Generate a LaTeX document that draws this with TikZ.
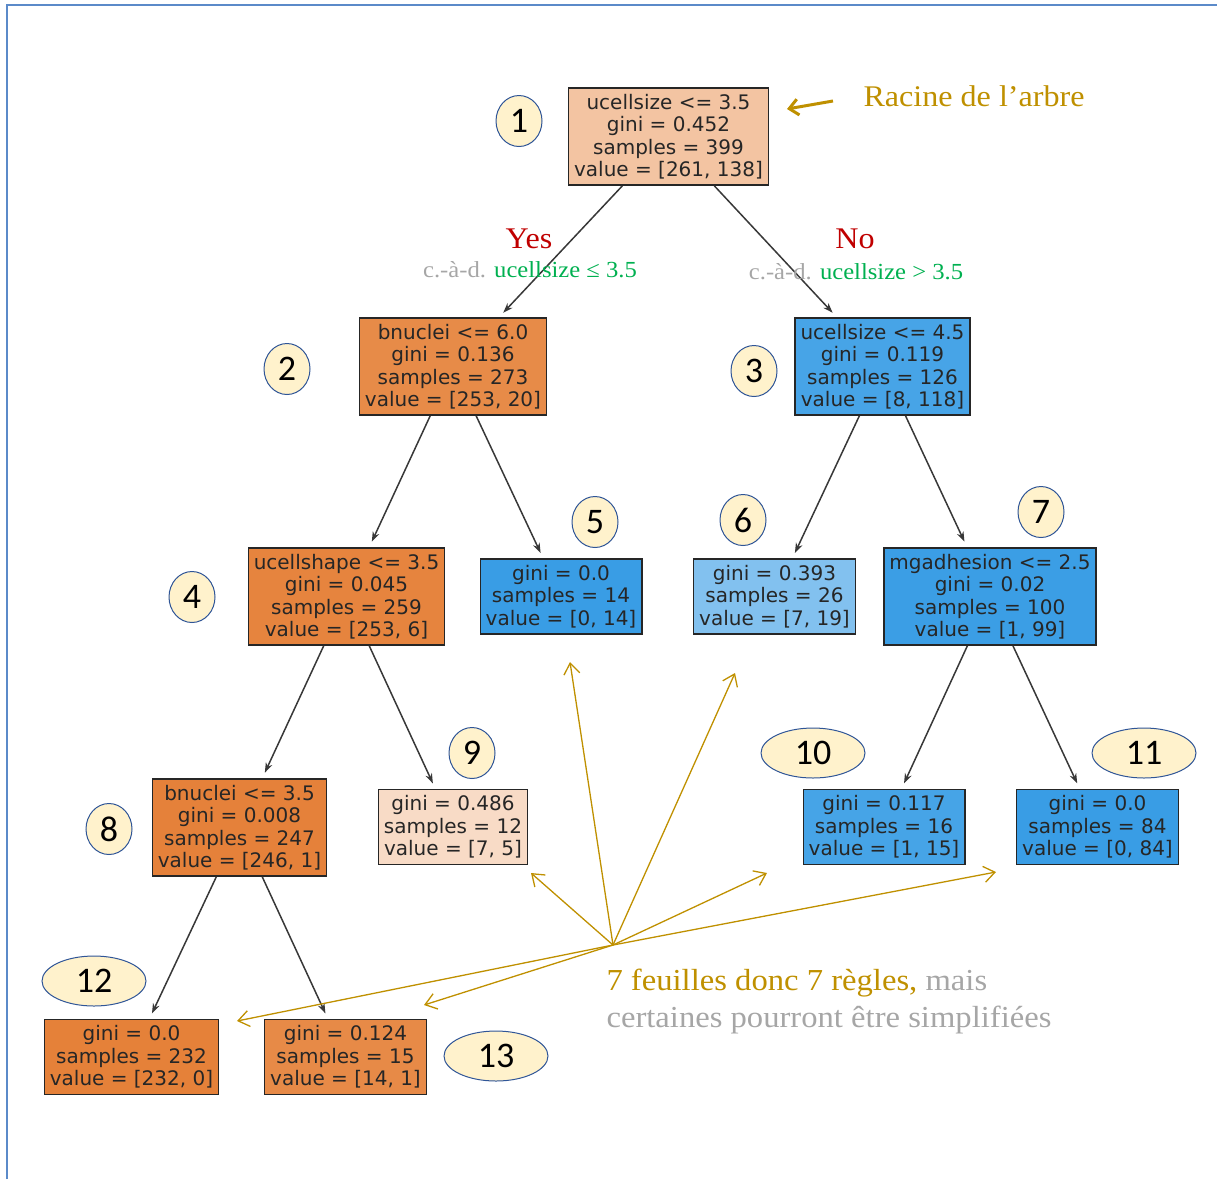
\documentclass[tikz,border=0pt]{standalone}
\usepackage{fontspec}
\setmainfont[FakeStretch=1.07]{Liberation Serif}
\newfontfamily\treefont{DejaVu Sans}
\newfontfamily\numfont{Carlito}
\usetikzlibrary{arrows.meta,shapes.geometric}

% class colours of the tree
\definecolor{cA}{RGB}{243,196,162}
\definecolor{cB}{RGB}{231,139,72}
\definecolor{cC}{RGB}{71,164,231}
\definecolor{cD}{RGB}{230,132,62}
\definecolor{cE}{RGB}{57,157,229}
\definecolor{cF}{RGB}{130,193,239}
\definecolor{cG}{RGB}{59,158,229}
\definecolor{cH}{RGB}{229,129,58}
\definecolor{cI}{RGB}{248,219,198}
\definecolor{cJ}{RGB}{70,164,231}
\definecolor{cK}{RGB}{229,129,57}
\definecolor{cL}{RGB}{231,138,71}
% annotation colours
\definecolor{gold}{RGB}{191,144,0}
\definecolor{lgray}{RGB}{166,166,166}
\definecolor{okgreen}{RGB}{0,176,80}
\definecolor{darkred}{RGB}{192,0,0}
\definecolor{numfill}{RGB}{255,242,204}
\definecolor{numline}{RGB}{47,85,151}
\definecolor{frameblue}{RGB}{91,138,201}

\begin{document}
\begin{tikzpicture}[x=1pt, y=-1pt,
    box/.style={draw=black!85, line width=1.4pt, align=center, inner xsep=5.5pt, inner ysep=6pt,
        text=black!85, font=\treefont\fontsize{20}{22.5}\selectfont},
    num/.style={ellipse, draw=numline, line width=1pt, fill=numfill, inner sep=0pt,
        minimum width=46pt, minimum height=51pt, font=\numfont\fontsize{36}{36}\selectfont},
    wide/.style={minimum width=104pt, minimum height=50pt},
    edge/.style={draw=black!78, line width=1.5pt, -{Stealth[length=10pt,width=7pt]}, shorten >=6pt},
    hint/.style={draw=gold, line width=1.3pt, -{Straight Barb[length=11pt,width=16pt]}}]

    \useasboundingbox (0,0) rectangle (1217,1179);
    \draw[frameblue, line width=2pt] (7,1179) -- (7,5) -- (1217,5);

    % Tree nodes
    \node[box, fill=cA] (n1) at (668.5,136.5) {ucellsize <= 3.5\\gini = 0.452\\samples = 399\\value = [261, 138]};
    \node[box, fill=cB] (n2) at (453,366.5) {bnuclei <= 6.0\\gini = 0.136\\samples = 273\\value = [253, 20]};
    \node[box, fill=cC] (n3) at (882.5,366.5) {ucellsize <= 4.5\\gini = 0.119\\samples = 126\\value = [8, 118]};
    \node[box, fill=cD] (n4) at (346.5,596.5) {ucellshape <= 3.5\\gini = 0.045\\samples = 259\\value = [253, 6]};
    \node[box, fill=cE] (n5) at (561,596.5) {gini = 0.0\\samples = 14\\value = [0, 14]};
    \node[box, fill=cF] (n6) at (774.5,596.5) {gini = 0.393\\samples = 26\\value = [7, 19]};
    \node[box, fill=cG] (n7) at (990,596.5) {mgadhesion <= 2.5\\gini = 0.02\\samples = 100\\value = [1, 99]};
    \node[box, fill=cH] (n8) at (239.5,827.5) {bnuclei <= 3.5\\gini = 0.008\\samples = 247\\value = [246, 1]};
    \node[box, fill=cI] (n9) at (453,827) {gini = 0.486\\samples = 12\\value = [7, 5]};
    \node[box, fill=cJ] (n10) at (884,827) {gini = 0.117\\samples = 16\\value = [1, 15]};
    \node[box, fill=cE] (n11) at (1097.5,827) {gini = 0.0\\samples = 84\\value = [0, 84]};
    \node[box, fill=cK] (n12) at (131.5,1057) {gini = 0.0\\samples = 232\\value = [232, 0]};
    \node[box, fill=cL] (n13) at (345.5,1057) {gini = 0.124\\samples = 15\\value = [14, 1]};

    % Tree edges
    \draw[edge] (n1) -- (n2);
    \draw[edge] (n1) -- (n3);
    \draw[edge] (n2) -- (n4);
    \draw[edge] (n2) -- (n5);
    \draw[edge] (n3) -- (n6);
    \draw[edge] (n3) -- (n7);
    \draw[edge] (n4) -- (n8);
    \draw[edge] (n4) -- (n9);
    \draw[edge] (n7) -- (n10);
    \draw[edge] (n7) -- (n11);
    \draw[edge] (n8) -- (n12);
    \draw[edge] (n8) -- (n13);

    % Node numbers
    \node[num] (k1) at (519,121) {1};
    \node[num] (k2) at (287,369) {2};
    \node[num] (k3) at (754,371) {3};
    \node[num] (k4) at (192,597) {4};
    \node[num] (k5) at (595,522) {5};
    \node[num] (k6) at (743,520) {6};
    \node[num] (k7) at (1041,512) {7};
    \node[num] (k8) at (109,829) {8};
    \node[num] (k9) at (472,753) {9};
    \node[num, wide] (k10) at (813,753) {10};
    \node[num, wide] (k11) at (1144,753) {11};
    \node[num, wide] (k12) at (94,981) {12};
    \node[num, wide] (k13) at (496,1056) {13};

    % Root label
    \node[anchor=west, text=gold, font=\fontsize{30}{30}\selectfont] (root) at (860,96) {Racine de l’arbre};
    \coordinate (rootTip) at (787,109);
    \draw[gold, line width=3pt, -{Straight Barb[length=9pt,width=16pt]}] (root.west) ++(-27,5) coordinate (rootTail) (rootTail) -- (rootTip);

    % Branch labels
    \node[text=darkred, font=\fontsize{30}{30}\selectfont] (yes) at (529,239) {Yes};
    \node[text=darkred, font=\fontsize{30}{30}\selectfont] (no) at (855,239) {No};
    \node[font=\fontsize{23}{23}\selectfont] (yesrule) at (530,270) {\textcolor{lgray}{c.-à-d.} \textcolor{okgreen}{ucellsize ≤ 3.5}};
    \node[font=\fontsize{23}{23}\selectfont] (norule) at (856,272) {\textcolor{lgray}{c.-à-d.} \textcolor{okgreen}{ucellsize > 3.5}};

    % Leaves pointers
    \coordinate (src) at (613,945);
    \coordinate (p5) at (570,662);
    \coordinate (p6) at (735,673);
    \coordinate (p9) at (531,873);
    \coordinate (p10) at (767,873);
    \coordinate (p11) at (996,872);
    \coordinate (p12) at (237,1021);
    \coordinate (p13) at (424,1005);
    \foreach \p in {p5,p6,p9,p10,p11,p12,p13}
        \draw[hint] (src) -- (\p);

    \node[anchor=north west, align=left, font=\fontsize{30.5}{37}\selectfont] (note) at (603,965)
        {\textcolor{gold}{7 feuilles donc 7 règles,} \textcolor{lgray}{mais}\\\textcolor{lgray}{certaines pourront être simplifiées}};
\end{tikzpicture}
\end{document}
